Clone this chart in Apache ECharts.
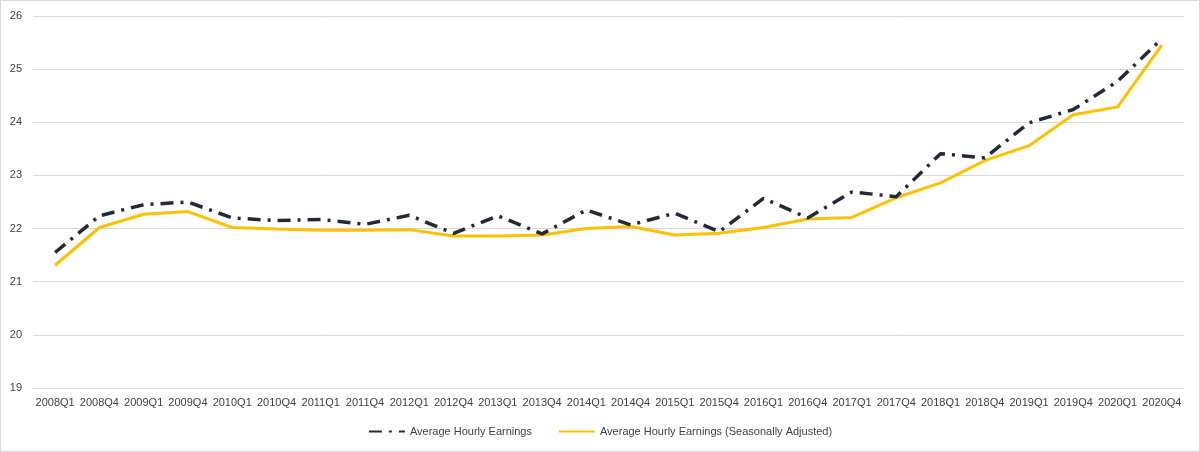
<!DOCTYPE html>
<html>
<head>
<meta charset="utf-8">
<script src="https://cdn.jsdelivr.net/npm/echarts@6/dist/echarts.min.js"></script>
<style>
html,body{margin:0;padding:0;background:#fff;}
#wrap{position:absolute;left:0;top:0;width:1198px;height:450px;border:1px solid #d9d9d9;}
#chart{width:1198px;height:450px;}
</style>
</head>
<body>
<div id="wrap"><div id="chart"></div></div>
<script>
const categories = ["2008Q1","2008Q4","2009Q1","2009Q4","2010Q1","2010Q4","2011Q1","2011Q4","2012Q1","2012Q4","2013Q1","2013Q4","2014Q1","2014Q4","2015Q1","2015Q4","2016Q1","2016Q4","2017Q1","2017Q4","2018Q1","2018Q4","2019Q1","2019Q4","2020Q1","2020Q4"];
const earnings = [21.55,22.24,22.45,22.5,22.2,22.15,22.17,22.08,22.25,21.91,22.24,21.9,22.35,22.07,22.29,21.94,22.57,22.2,22.69,22.6,23.41,23.33,23.99,24.24,24.77,25.57];
const earningsSA = [21.31,22.02,22.27,22.32,22.02,21.99,21.97,21.97,21.98,21.86,21.86,21.88,22.0,22.04,21.88,21.91,22.02,22.18,22.21,22.58,22.86,23.28,23.56,24.14,24.29,25.45];
const seriesNames = ["Average Hourly Earnings","Average Hourly Earnings (Seasonally Adjusted)"];
const yTicks = {min:19, max:26, interval:1};

const chart = echarts.init(document.getElementById('chart'), null, {renderer:'canvas'});
const font = "'Liberation Sans', Arial, sans-serif";
chart.setOption({
  animation:false,
  grid:{left:32, right:15, top:15, bottom:63, containLabel:false},
  legend:{
    bottom:9, left:'center', itemGap:26, itemWidth:36, itemHeight:8,
    itemStyle:{opacity:0},
    textStyle:{fontFamily:font, fontSize:11, color:'#404040'},
    data:seriesNames
  },
  xAxis:{
    type:'category', data:categories, boundaryGap:true,
    axisLine:{show:false}, axisTick:{show:false},
    axisLabel:{interval:0, fontFamily:font, fontSize:11, color:'#404040', margin:9}
  },
  yAxis:{
    type:'value', min:yTicks.min, max:yTicks.max, interval:yTicks.interval,
    axisLine:{show:false}, axisTick:{show:false},
    axisLabel:{fontFamily:font, fontSize:11, color:'#404040', margin:11},
    splitLine:{lineStyle:{color:'#d9d9d9', width:1}}
  },
  series:[
    {name:seriesNames[0], type:'line', data:earnings, symbol:'none', smooth:false,
     lineStyle:{color:'#222A35', width:3.5, type:[13,7,3,7], cap:'butt'},
     itemStyle:{color:'#222A35'}, z:3},
    {name:seriesNames[1], type:'line', data:earningsSA, symbol:'none', smooth:false,
     lineStyle:{color:'#FFC000', width:3}, itemStyle:{color:'#FFC000'}, z:2}
  ]
});
</script>
</body>
</html>
